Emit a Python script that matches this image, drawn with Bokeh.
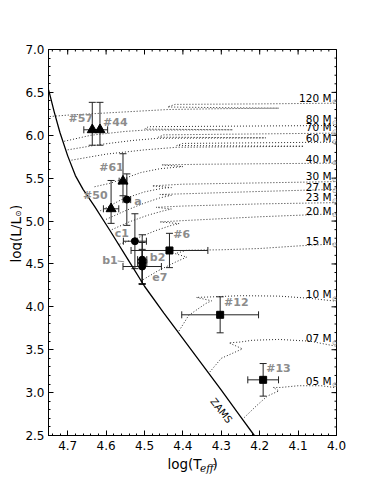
import math
from bokeh.plotting import figure
from bokeh.layouts import row, column
from bokeh.models import (ColumnDataSource, Whisker, TeeHead, FixedTicker, Range1d,
                          NumeralTickFormatter)
from bokeh.embed import file_html
from bokeh.resources import INLINE
from bokeh.core.properties import value

# ---------------- data ----------------
zams_logT = [4.752, 4.748, 4.735, 4.72, 4.70, 4.68, 4.66, 4.63, 4.59, 4.54, 4.50, 4.45, 4.40, 4.35, 4.30, 4.25, 4.214, 4.20]
zams_logL = [6.56, 6.50, 6.27, 6.03, 5.76, 5.53, 5.37, 5.17, 4.89, 4.53, 4.24, 3.93, 3.63, 3.33, 3.03, 2.72, 2.50, 2.41]

track_names = ["120", "80", "70", "60", "40", "30", "27", "23", "20", "15", "10", "07", "05"]
track_label_logL = [6.437, 6.19, 6.094, 5.966, 5.726, 5.53, 5.40, 5.28, 5.12, 4.773, 4.144, 3.634, 3.141]

t120_T = [4.77, 4.70, 4.60, 4.50, 4.44, 4.30, 4.15, 4.30, 4.44, 4.42, 4.20, 4.00]
t120_L = [6.21, 6.235, 6.26, 6.285, 6.300, 6.310, 6.316, 6.322, 6.330, 6.360, 6.366, 6.374]
t80_T = [4.709, 4.64, 4.55, 4.50, 4.27, 4.50, 4.49, 4.00]
t80_L = [5.93, 6.00, 6.045, 6.060, 6.064, 6.072, 6.100, 6.114]
t70_T = [4.700, 4.62, 4.53, 4.464, 4.184, 4.464, 4.45, 4.00]
t70_L = [5.83, 5.89, 5.94, 5.965, 5.970, 5.978, 6.005, 6.025]
t60_T = [4.690, 4.60, 4.50, 4.416, 4.085, 4.416, 4.40, 4.00]
t60_L = [5.71, 5.78, 5.83, 5.860, 5.872, 5.880, 5.905, 5.920]
t40_T = [4.63, 4.59, 4.55, 4.51, 4.46, 4.40, 4.455, 4.35, 4.20, 4.00]
t40_L = [5.40, 5.44, 5.50, 5.565, 5.61, 5.635, 5.655, 5.662, 5.668, 5.675]
t30_T = [4.615, 4.56, 4.50, 4.45, 4.43, 4.48, 4.40, 4.20, 4.00]
t30_L = [5.12, 5.25, 5.34, 5.385, 5.39, 5.41, 5.43, 5.445, 5.46]
t27_T = [4.600, 4.55, 4.50, 4.46, 4.43, 4.46, 4.38, 4.20, 4.00]
t27_L = [5.02, 5.12, 5.21, 5.27, 5.30, 5.31, 5.32, 5.345, 5.37]
t23_T = [4.585, 4.54, 4.49, 4.45, 4.43, 4.47, 4.40, 4.20, 4.00]
t23_L = [4.90, 4.99, 5.07, 5.12, 5.14, 5.16, 5.175, 5.20, 5.215]
t20_T = [4.565, 4.52, 4.47, 4.43, 4.41, 4.46, 4.40, 4.20, 4.00]
t20_L = [4.73, 4.80, 4.89, 4.95, 4.97, 4.99, 5.005, 5.05, 5.085]
t15_T = [4.51, 4.465, 4.42, 4.39, 4.42, 4.39, 4.30, 4.20, 4.10, 4.00]
t15_L = [4.30, 4.42, 4.52, 4.58, 4.62, 4.66, 4.665, 4.68, 4.71, 4.735]
t10_T = [4.41, 4.385, 4.34, 4.325, 4.365, 4.33, 4.25, 4.15, 4.07, 4.00]
t10_L = [3.72, 3.90, 4.04, 4.07, 4.11, 4.115, 4.13, 4.125, 4.10, 4.065]
t07_T = [4.33, 4.30, 4.26, 4.245, 4.28, 4.25, 4.22, 4.15, 4.07, 4.00]
t07_L = [3.24, 3.40, 3.48, 3.51, 3.58, 3.59, 3.61, 3.62, 3.60, 3.54]
t05_T = [4.24, 4.21, 4.18, 4.15, 4.165, 4.145, 4.10, 4.04, 4.00]
t05_L = [2.71, 2.84, 2.96, 3.02, 3.06, 3.06, 3.08, 3.08, 3.056]

tracks_T = [t120_T, t80_T, t70_T, t60_T, t40_T, t30_T, t27_T, t23_T, t20_T, t15_T, t10_T, t07_T, t05_T]
tracks_L = [t120_L, t80_L, t70_L, t60_L, t40_L, t30_L, t27_L, t23_L, t20_L, t15_L, t10_L, t07_L, t05_L]

# stars: triangles
tri_names = ["#57", "#44", "#61", "#50"]
tri_logT = [4.636, 4.616, 4.556, 4.587]
tri_logL = [6.064, 6.064, 5.465, 5.143]
tri_errT = [0.022, 0.020, 0.010, 0.020]
tri_errL_up = [0.32, 0.32, 0.32, 0.33]
tri_errL_dn = [0.18, 0.18, 0.17, 0.17]
# circles
cir_names = ["a", "c1", "b2", "b1", "e7"]
cir_logT = [4.546, 4.525, 4.506, 4.506, 4.506]
cir_logL = [5.25, 4.765, 4.55, 4.51, 4.47]
cir_errT = [0.010, 0.030, 0.012, 0.012, 0.050]
cir_errL = [0.30, 0.32, 0.29, 0.24, 0.20]
# squares
sq_names = ["#6", "#12", "#13"]
sq_logT = [4.435, 4.303, 4.191]
sq_logL = [4.657, 3.907, 3.149]
sq_errT = [0.10, 0.10, 0.04]
sq_errL = [0.20, 0.21, 0.19]

# name label placements (data coordinates)
name_text = ["#57", "#44", "#61", "#50", "a", "c1", "#6", "b1", "b2", "e7", "#12", "#13"]
name_x = [4.666, 4.576, 4.586, 4.628, 4.517, 4.559, 4.403, 4.590, 4.466, 4.460, 4.261, 4.151]
name_y = [6.20, 6.15, 5.62, 5.30, 5.23, 4.86, 4.84, 4.54, 4.58, 4.35, 4.047, 3.285]

x_ticks = [4.0, 4.1, 4.2, 4.3, 4.4, 4.5, 4.6, 4.7]
y_ticks = [2.5, 3.0, 3.5, 4.0, 4.5, 5.0, 5.5, 6.0, 6.5, 7.0]
x_minor = [round(4.0 + 0.02 * i, 2) for i in range(38)]
y_minor = [round(2.5 + 0.1 * i, 1) for i in range(46)]

# ---------------- main figure ----------------
FONT = "DejaVu Sans"
YT_W = 22
MAIN_W, MAIN_H = 344, 455
XT_H = 40
p = figure(width=MAIN_W, height=MAIN_H, x_range=Range1d(4.75, 4.0), y_range=Range1d(2.5, 7.0),
           output_backend="svg", toolbar_location=None,
           min_border_left=24, min_border_right=30, min_border_top=49, min_border_bottom=20)
p.grid.visible = False
p.outline_line_color = "black"
p.outline_line_width = 1
p.background_fill_color = "white"
p.border_fill_color = "white"

p.xaxis.ticker = FixedTicker(ticks=x_ticks, minor_ticks=x_minor)
p.yaxis.ticker = FixedTicker(ticks=y_ticks, minor_ticks=y_minor)
for ax in (p.xaxis[0], p.yaxis[0]):
    ax.formatter = NumeralTickFormatter(format="0.0")
    ax.major_tick_in = 5
    ax.major_tick_out = 0
    ax.minor_tick_in = 2
    ax.minor_tick_out = 0
    ax.axis_line_color = "black"
    ax.major_tick_line_color = "black"
    ax.minor_tick_line_color = "black"
    ax.major_label_text_font = FONT
    ax.major_label_text_font_size = "12px"
    ax.major_label_text_color = "black"
p.xaxis[0].major_label_standoff = 5
p.yaxis[0].major_label_standoff = 4

# inward ticks on top and right edges (clipped half-dashes)
p.scatter(x_ticks, [7.0] * len(x_ticks), marker="dash", angle=math.pi / 2, size=10,
          line_color="black", line_width=1)
p.scatter(x_minor, [7.0] * len(x_minor), marker="dash", angle=math.pi / 2, size=4,
          line_color="black", line_width=1)
p.scatter([4.0] * len(y_ticks), y_ticks, marker="dash", size=10, line_color="black", line_width=1)
p.scatter([4.0] * len(y_minor), y_minor, marker="dash", size=4, line_color="black", line_width=1)

# tracks
for tT, tL in zip(tracks_T, tracks_L):
    p.line(tT, tL, line_color="#2a2a2a", line_width=1, line_dash="1 2")

# ZAMS
p.line(zams_logT, zams_logL, line_color="black", line_width=1.3)
p.text(x=[4.30], y=[2.79], text=["ZAMS"], angle=-0.90, text_font=value(FONT),
       text_font_size="10px", text_align="center", text_baseline="middle", text_color="black")

# track labels
p.text(x=[4.013] * len(track_names), y=track_label_logL, text=[n + " M" for n in track_names],
       text_font=value(FONT), text_font_size="10.5px", text_align="right", text_baseline="middle",
       text_color="black")
p.text(x=[4.004] * len(track_names), y=[v - 0.05 for v in track_label_logL], text=["⊙"] * len(track_names),
       text_font=value(FONT), text_font_size="7px", text_align="center", text_baseline="middle",
       text_color="#888888")


# error bars
def whiskers(base, lower, upper, dim):
    src = ColumnDataSource(dict(base=base, lower=lower, upper=upper))
    w = Whisker(base="base", lower="lower", upper="upper", dimension=dim, source=src,
                line_color="#222222", line_width=1,
                upper_head=TeeHead(size=7, line_color="#222222", line_width=1),
                lower_head=TeeHead(size=7, line_color="#222222", line_width=1))
    p.add_layout(w)


all_T = tri_logT + cir_logT + sq_logT
all_L = tri_logL + cir_logL + sq_logL
all_eT = tri_errT + cir_errT + sq_errT
all_Lup = tri_errL_up + cir_errL + sq_errL
all_Ldn = tri_errL_dn + cir_errL + sq_errL
whiskers(all_T, [l - d for l, d in zip(all_L, all_Ldn)], [l + u for l, u in zip(all_L, all_Lup)], "height")
whiskers(all_L, [t - e for t, e in zip(all_T, all_eT)], [t + e for t, e in zip(all_T, all_eT)], "width")

p.scatter(tri_logT, tri_logL, marker="triangle", size=10, fill_color="black", line_color="black")
p.scatter(cir_logT, cir_logL, marker="circle", size=7, fill_color="black", line_color="black")
p.scatter(sq_logT, sq_logL, marker="square", size=7, fill_color="black", line_color="black")

# names
p.text(x=name_x, y=name_y, text=name_text, text_font=value(FONT), text_font_size="11px",
       text_font_style="bold", text_color="#8c8c8c", text_align="center", text_baseline="middle")
p.segment(x0=[4.570], y0=[4.535], x1=[4.553], y1=[4.525], line_color="#8c8c8c", line_width=1)


def blank_fig(w, h):
    f = figure(width=w, height=h, x_range=Range1d(0, w), y_range=Range1d(0, h),
               output_backend="svg", toolbar_location=None, min_border=0,
               x_axis_location=None, y_axis_location=None)
    f.grid.visible = False
    f.outline_line_color = None
    f.background_fill_color = "white"
    f.border_fill_color = "white"
    return f


# y-axis title panel
yt = blank_fig(YT_W, MAIN_H)
yt.text(x=[15], y=[193], text=["log(L/L"], angle=math.pi / 2, text_font=value(FONT),
        text_font_size="13.5px", text_align="left", text_baseline="middle", text_color="black")
yt.text(x=[18], y=[238.5], text=["⊙"], angle=math.pi / 2, text_font=value(FONT),
        text_font_size="8px", text_align="left", text_baseline="middle", text_color="black")
yt.text(x=[15], y=[245.5], text=[")"], angle=math.pi / 2, text_font=value(FONT),
        text_font_size="13.5px", text_align="left", text_baseline="middle", text_color="black")

# x-axis title panel
xtf = blank_fig(MAIN_W, XT_H)
xtf.text(x=[142], y=[32], text=["log(T"], text_font=value(FONT), text_font_size="13.5px",
         text_align="left", text_baseline="middle", text_color="black")
xtf.text(x=[181], y=[28], text=["eff"], text_font=value("DejaVu Serif"), text_font_size="10.5px",
         text_font_style="italic", text_align="left", text_baseline="middle", text_color="black")
xtf.text(x=[196], y=[32], text=[")"], text_font=value(FONT), text_font_size="13.5px",
         text_align="left", text_baseline="middle", text_color="black")

layout = row(yt, column(p, xtf, spacing=0), spacing=0)
open("out.html", "w").write(file_html(layout, INLINE))
